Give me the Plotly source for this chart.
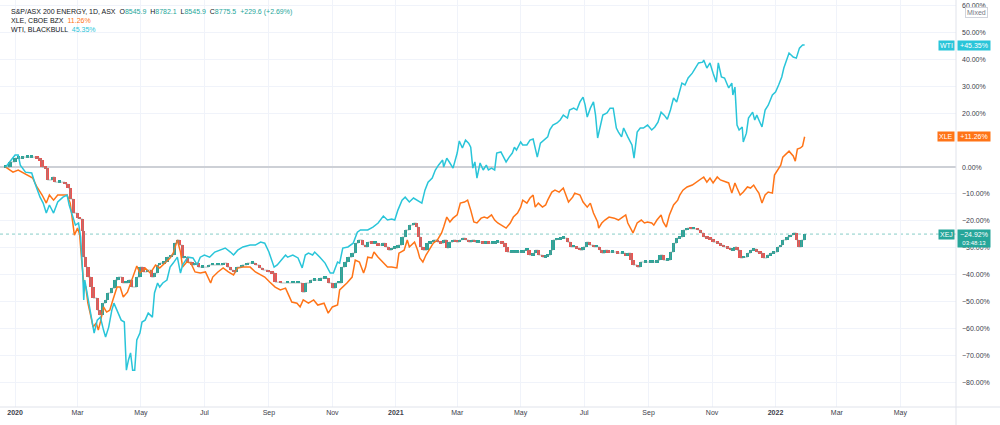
import plotly.graph_objects as go
import pandas as pd

# ---------------- data (percent change vs first bar) ----------------
wti_dates = ["2019-12-23","2019-12-27","2020-01-01","2020-01-04","2020-01-06","2020-01-11","2020-01-17","2020-01-20","2020-01-25","2020-01-28","2020-01-31",
"2020-02-03","2020-02-07","2020-02-11","2020-02-16","2020-02-20","2020-02-22","2020-02-25","2020-02-28","2020-03-02","2020-03-04","2020-03-06","2020-03-07","2020-03-08",
"2020-03-11","2020-03-15","2020-03-17","2020-03-20","2020-03-23","2020-03-26","2020-03-28","2020-03-31","2020-04-03","2020-04-05","2020-04-08","2020-04-12","2020-04-15",
"2020-04-17","2020-04-19","2020-04-21","2020-04-23","2020-04-25","2020-04-27","2020-04-30","2020-05-02","2020-05-05","2020-05-08","2020-05-12","2020-05-14","2020-05-17",
"2020-05-19","2020-05-22","2020-05-26","2020-05-29","2020-06-01","2020-06-05","2020-06-08","2020-06-10","2020-06-15","2020-06-20","2020-06-24","2020-06-27","2020-07-01",
"2020-07-06","2020-07-11","2020-07-16","2020-07-21","2020-07-26","2020-07-29","2020-08-02","2020-08-07","2020-08-14","2020-08-19","2020-08-24","2020-08-28","2020-09-01",
"2020-09-06","2020-09-09","2020-09-14","2020-09-17","2020-09-19","2020-09-24","2020-09-29","2020-10-03","2020-10-06","2020-10-09","2020-10-13","2020-10-15","2020-10-20",
"2020-10-25","2020-10-30","2020-11-02","2020-11-06","2020-11-08","2020-11-11","2020-11-16","2020-11-21","2020-11-25","2020-11-28","2020-12-02","2020-12-05","2020-12-10",
"2020-12-15","2020-12-20","2020-12-24","2020-12-28","2020-12-31","2021-01-03","2021-01-07","2021-01-10","2021-01-14","2021-01-18","2021-01-22","2021-01-26","2021-01-29",
"2021-02-01","2021-02-05","2021-02-08","2021-02-11","2021-02-15","2021-02-16","2021-02-19","2021-02-22","2021-02-25","2021-03-01","2021-03-03","2021-03-06","2021-03-09",
"2021-03-12","2021-03-14","2021-03-16","2021-03-18","2021-03-20","2021-03-23","2021-03-26","2021-03-29","2021-03-31","2021-04-03","2021-04-06","2021-04-08","2021-04-12",
"2021-04-15","2021-04-17","2021-04-20","2021-04-23","2021-04-25","2021-04-27","2021-05-01","2021-05-03","2021-05-07","2021-05-10","2021-05-13","2021-05-17","2021-05-20",
"2021-05-23","2021-05-27","2021-05-29","2021-06-01","2021-06-05","2021-06-08","2021-06-11","2021-06-15","2021-06-17","2021-06-21","2021-06-24","2021-06-27","2021-06-30",
"2021-07-02","2021-07-04","2021-07-07","2021-07-10","2021-07-12","2021-07-14","2021-07-16","2021-07-19","2021-07-23","2021-07-26","2021-07-29","2021-08-01","2021-08-03",
"2021-08-06","2021-08-08","2021-08-10","2021-08-12","2021-08-16","2021-08-18","2021-08-21","2021-08-24","2021-08-27","2021-08-31","2021-09-04","2021-09-07","2021-09-10",
"2021-09-13","2021-09-16","2021-09-19","2021-09-22","2021-09-25","2021-09-28","2021-09-30","2021-10-03","2021-10-06","2021-10-09","2021-10-13","2021-10-16","2021-10-19",
"2021-10-23","2021-10-24","2021-10-27","2021-10-30","2021-11-02","2021-11-05","2021-11-07","2021-11-10","2021-11-13","2021-11-17","2021-11-20","2021-11-21","2021-11-23",
"2021-11-25","2021-11-27","2021-11-30","2021-12-01","2021-12-04","2021-12-06","2021-12-10","2021-12-12","2021-12-14","2021-12-16","2021-12-19","2021-12-22","2021-12-25",
"2021-12-29","2022-01-01","2022-01-04","2022-01-07","2022-01-09","2022-01-12","2022-01-14","2022-01-18","2022-01-21","2022-01-24","2022-01-27","2022-01-29"]
wti_values = [0,2.2,4.5,4.5,0.7,-1.9,-2.2,-5.9,-11.2,-13.4,-17.1,
-14.1,-17.1,-13.0,-11.2,-10.4,-14.1,-17.8,-21.6,-20.8,-26.0,-39.4,-49.4,-42.0,
-48.3,-56.9,-61.7,-56.9,-55.8,-60.6,-63.2,-59.5,-53.2,-50.6,-53.2,-56.9,-57.6,
-75.5,-71.7,-69.1,-75.5,-75.5,-64.3,-61.7,-57.6,-56.9,-54.3,-55.8,-46.8,-43.1,
-44.6,-43.1,-42.0,-37.2,-35.7,-33.5,-39.4,-36.4,-33.5,-33.8,-36.4,-33.5,-32.7,
-33.5,-31.6,-30.9,-30.1,-31.6,-32.7,-30.9,-29.7,-29.0,-29.0,-27.9,-28.3,-31.6,
-37.2,-36.4,-33.8,-32.7,-33.5,-32.7,-33.8,-37.5,-32.7,-32.0,-32.7,-31.6,-33.5,
-35.7,-39.4,-39.4,-35.3,-35.7,-30.1,-29.7,-28.3,-24.2,-23.4,-23.4,-23.4,-22.3,
-20.8,-18.2,-19.7,-19.3,-19.7,-16.0,-12.3,-11.2,-13.0,-11.5,-12.3,-13.4,-8.6,
-5.6,-4.1,-1.1,0.7,2.6,0.0,3.3,1.5,-0.4,5.2,9.7,7.1,10.0,
8.9,7.4,-0.4,1.9,-4.1,1.5,-1.1,0.7,-1.1,-0.4,-1.1,5.2,5.6,
3.3,1.9,3.7,5.2,7.4,6.3,9.3,8.2,8.2,10.0,10.4,3.7,8.9,
10.0,11.2,13.8,15.6,16.4,17.5,19.3,18.2,21.2,21.9,21.2,24.2,26.0,
23.0,18.6,21.9,24.2,19.3,10.8,14.5,19.3,20.1,21.9,21.9,14.5,13.0,
11.2,14.5,12.6,11.2,8.2,3.3,13.0,14.5,14.5,15.6,13.8,14.9,16.7,
20.4,19.3,17.8,21.2,25.7,24.2,26.8,31.2,30.5,33.1,34.9,36.8,38.7,
39.0,39.8,36.8,38.7,34.9,31.6,38.7,33.5,33.1,29.4,31.2,26.8,29.7,
15.6,13.8,14.9,9.3,12.6,18.2,20.4,17.5,19.3,17.5,14.9,21.2,23.0,
26.8,27.9,30.5,33.5,36.8,39.8,42.4,40.9,40.5,44.2,45.4,45.35]

xle_dates = ["2019-12-23","2019-12-27","2019-12-30","2020-01-04","2020-01-09","2020-01-13","2020-01-18","2020-01-22","2020-01-27","2020-01-31","2020-02-03","2020-02-07",
"2020-02-11","2020-02-16","2020-02-20","2020-02-23","2020-02-25","2020-02-27","2020-03-01","2020-03-03","2020-03-05","2020-03-07","2020-03-09","2020-03-11","2020-03-14",
"2020-03-16","2020-03-19","2020-03-21","2020-03-23","2020-03-26","2020-03-29","2020-04-01","2020-04-04","2020-04-08","2020-04-11","2020-04-14","2020-04-18","2020-04-22",
"2020-04-27","2020-04-30","2020-05-05","2020-05-10","2020-05-15","2020-05-19","2020-05-24","2020-05-29","2020-06-01","2020-06-05","2020-06-08","2020-06-10","2020-06-14",
"2020-06-18","2020-06-22","2020-06-27","2020-07-02","2020-07-07","2020-07-09","2020-07-14","2020-07-19","2020-07-24","2020-07-29","2020-08-02","2020-08-07","2020-08-14",
"2020-08-19","2020-08-24","2020-08-28","2020-09-02","2020-09-07","2020-09-12","2020-09-17","2020-09-20","2020-09-23","2020-09-28","2020-10-01","2020-10-04","2020-10-09",
"2020-10-14","2020-10-18","2020-10-24","2020-10-28","2020-11-01","2020-11-06","2020-11-08","2020-11-11","2020-11-15","2020-11-20","2020-11-23","2020-11-27","2020-12-01",
"2020-12-03","2020-12-05","2020-12-09","2020-12-11","2020-12-15","2020-12-20","2020-12-24","2020-12-28","2021-01-02","2021-01-04","2021-01-09","2021-01-12","2021-01-14",
"2021-01-19","2021-01-22","2021-01-24","2021-01-27","2021-01-30","2021-02-03","2021-02-06","2021-02-10","2021-02-14","2021-02-16","2021-02-19","2021-02-22","2021-02-25",
"2021-03-01","2021-03-04","2021-03-08","2021-03-11","2021-03-14","2021-03-17","2021-03-20","2021-03-24","2021-03-27","2021-03-30","2021-04-03","2021-04-06","2021-04-09",
"2021-04-13","2021-04-17","2021-04-21","2021-04-24","2021-04-28","2021-05-01","2021-05-03","2021-05-07","2021-05-10","2021-05-13","2021-05-15","2021-05-18","2021-05-22",
"2021-05-25","2021-05-27","2021-05-31","2021-06-03","2021-06-07","2021-06-11","2021-06-14","2021-06-16","2021-06-20","2021-06-22","2021-06-27","2021-06-30","2021-07-04",
"2021-07-07","2021-07-10","2021-07-14","2021-07-15","2021-07-18","2021-07-21","2021-07-25","2021-07-30","2021-08-03","2021-08-07","2021-08-10","2021-08-12","2021-08-16",
"2021-08-17","2021-08-21","2021-08-25","2021-08-28","2021-08-31","2021-09-04","2021-09-06","2021-09-09","2021-09-13","2021-09-15","2021-09-18","2021-09-21","2021-09-25",
"2021-09-29","2021-10-01","2021-10-04","2021-10-08","2021-10-13","2021-10-17","2021-10-21","2021-10-24","2021-10-27","2021-10-30","2021-11-02","2021-11-06","2021-11-09",
"2021-11-14","2021-11-17","2021-11-20","2021-11-23","2021-11-25","2021-11-28","2021-12-01","2021-12-05","2021-12-08","2021-12-11","2021-12-14","2021-12-16","2021-12-19",
"2021-12-22","2021-12-25","2021-12-29","2021-12-31","2022-01-03","2022-01-06","2022-01-08","2022-01-11","2022-01-14","2022-01-18","2022-01-20","2022-01-22","2022-01-25",
"2022-01-27","2022-01-29"]
xle_values = [0,-1.1,-1.9,-1.1,-2.2,-3.0,-4.1,-7.4,-10.4,-13.4,-10.4,-12.3,
-10.4,-10.4,-10.4,-13.4,-19.7,-25.3,-22.7,-24.9,-34.6,-43.1,-44.6,-50.6,-55.8,
-59.5,-58.0,-60.6,-57.6,-52.0,-53.9,-53.2,-49.4,-44.6,-44.6,-48.3,-46.5,-42.0,
-36.8,-39.4,-37.5,-39.4,-36.4,-37.5,-35.7,-33.8,-32.0,-27.1,-31.6,-37.2,-35.3,
-35.7,-39.0,-39.4,-39.0,-43.1,-40.9,-39.0,-37.5,-39.0,-40.1,-37.5,-37.2,-37.2,
-39.0,-40.1,-40.9,-42.8,-44.6,-45.7,-45.0,-47.6,-50.2,-50.6,-52.0,-49.4,-50.6,
-49.4,-51.3,-50.6,-54.3,-52.0,-51.3,-45.7,-44.6,-43.1,-40.9,-34.6,-35.3,-39.4,
-37.2,-33.5,-33.8,-31.6,-33.5,-35.7,-37.2,-37.2,-37.5,-32.0,-30.9,-27.1,-29.7,
-27.9,-30.9,-33.8,-35.3,-32.7,-30.1,-28.3,-27.1,-24.5,-22.3,-18.6,-20.4,-19.0,
-17.8,-13.4,-13.0,-12.3,-16.0,-20.4,-20.8,-19.0,-18.6,-19.0,-17.8,-19.7,-20.8,
-21.6,-22.7,-20.8,-18.6,-17.1,-14.9,-12.3,-13.4,-11.5,-10.4,-14.9,-13.4,-14.9,
-14.1,-12.3,-9.3,-8.6,-9.3,-7.8,-11.2,-13.0,-11.2,-9.7,-10.4,-13.0,-14.9,
-13.4,-17.1,-20.4,-22.7,-20.8,-19.7,-18.6,-19.0,-19.7,-18.6,-17.8,-20.8,-23.4,
-24.5,-20.8,-19.7,-20.8,-20.4,-20.8,-21.6,-19.7,-17.8,-20.4,-22.3,-17.8,-14.1,
-12.3,-10.4,-8.6,-7.4,-6.7,-5.6,-4.8,-3.7,-5.6,-4.1,-5.9,-3.7,-4.8,
-5.6,-5.9,-9.7,-5.9,-7.8,-10.4,-9.3,-7.4,-7.8,-6.7,-8.6,-9.7,-13.4,
-10.4,-9.3,-9.7,-3.0,-1.1,0.7,3.7,4.8,5.9,4.1,2.2,6.7,7.1,
7.8,11.26]

xej_dates = ["2019-12-23","2019-12-27","2020-01-01","2020-01-04","2020-01-08","2020-01-13","2020-01-17","2020-01-22","2020-01-25","2020-01-27","2020-01-30","2020-02-01",
"2020-02-06","2020-02-08","2020-02-13","2020-02-18","2020-02-21","2020-02-23","2020-02-26","2020-03-01","2020-03-03","2020-03-06","2020-03-07","2020-03-09","2020-03-11",
"2020-03-14","2020-03-16","2020-03-20","2020-03-22","2020-03-25","2020-03-28","2020-03-30","2020-04-03","2020-04-06","2020-04-09","2020-04-13","2020-04-16","2020-04-19",
"2020-04-22","2020-04-27","2020-04-30","2020-05-03","2020-05-07","2020-05-11","2020-05-14","2020-05-17","2020-05-19","2020-05-23","2020-05-26","2020-05-30","2020-06-02",
"2020-06-05","2020-06-07","2020-06-10","2020-06-12","2020-06-15","2020-06-19","2020-06-22","2020-06-25","2020-06-29","2020-07-05","2020-07-09","2020-07-14","2020-07-19",
"2020-07-23","2020-07-26","2020-07-29","2020-08-01","2020-08-06","2020-08-11","2020-08-16","2020-08-19","2020-08-23","2020-08-26","2020-08-31","2020-09-04","2020-09-07",
"2020-09-12","2020-09-19","2020-09-24","2020-09-29","2020-10-03","2020-10-06","2020-10-11","2020-10-15","2020-10-20","2020-10-25","2020-10-28","2020-11-01","2020-11-04",
"2020-11-07","2020-11-10","2020-11-13","2020-11-16","2020-11-20","2020-11-23","2020-11-26","2020-11-30","2020-12-03","2020-12-05","2020-12-09","2020-12-12","2020-12-15",
"2020-12-19","2020-12-22","2020-12-25","2020-12-28","2020-12-31","2021-01-03","2021-01-07","2021-01-10","2021-01-14","2021-01-18","2021-01-21","2021-01-23","2021-01-25",
"2021-01-27","2021-01-31","2021-02-03","2021-02-06","2021-02-10","2021-02-13","2021-02-16","2021-02-19","2021-02-21","2021-02-25","2021-02-28","2021-03-03","2021-03-06",
"2021-03-09","2021-03-12","2021-03-15","2021-03-18","2021-03-21","2021-03-25","2021-03-28","2021-03-31","2021-04-04","2021-04-07","2021-04-09","2021-04-13","2021-04-16",
"2021-04-18","2021-04-22","2021-04-25","2021-04-28","2021-05-02","2021-05-04","2021-05-07","2021-05-09","2021-05-13","2021-05-15","2021-05-18","2021-05-22","2021-05-25",
"2021-05-27","2021-05-30","2021-06-01","2021-06-05","2021-06-08","2021-06-11","2021-06-15","2021-06-18","2021-06-21","2021-06-24","2021-06-27","2021-06-30","2021-07-03",
"2021-07-06","2021-07-10","2021-07-13","2021-07-16","2021-07-18","2021-07-21","2021-07-24","2021-07-28","2021-08-02","2021-08-07","2021-08-10","2021-08-12","2021-08-15",
"2021-08-17","2021-08-21","2021-08-24","2021-08-29","2021-09-03","2021-09-05","2021-09-09","2021-09-12","2021-09-15","2021-09-19","2021-09-22","2021-09-25","2021-09-28",
"2021-10-01","2021-10-04","2021-10-08","2021-10-11","2021-10-14","2021-10-18","2021-10-21","2021-10-24","2021-10-27","2021-10-30","2021-11-02","2021-11-06","2021-11-09",
"2021-11-12","2021-11-16","2021-11-19","2021-11-21","2021-11-23","2021-11-25","2021-11-28","2021-12-01","2021-12-05","2021-12-08","2021-12-11","2021-12-14","2021-12-17",
"2021-12-20","2021-12-24","2021-12-27","2021-12-30","2022-01-03","2022-01-06","2022-01-08","2022-01-12","2022-01-15","2022-01-18","2022-01-21","2022-01-23","2022-01-26",
"2022-01-29"]
xej_close = [0,1.9,3.3,3.3,3.7,3.7,3.7,3.3,2.6,0.0,-0.4,-4.8,
-3.7,-5.6,-5.6,-6.3,-7.8,-11.9,-17.1,-19.0,-19.3,-23.8,-33.5,-37.2,-40.9,
-44.6,-48.7,-53.2,-55.0,-50.6,-49.4,-46.8,-45.0,-42.0,-40.9,-43.1,-43.1,-42.0,
-44.6,-40.9,-37.2,-39.0,-38.3,-40.9,-39.4,-36.4,-35.7,-35.3,-33.5,-32.7,-28.3,
-27.1,-29.0,-33.8,-33.5,-35.3,-36.4,-35.7,-37.2,-37.2,-36.4,-36.4,-36.4,-35.7,
-37.2,-38.3,-39.0,-37.2,-36.4,-35.7,-35.7,-36.4,-37.5,-38.3,-39.0,-39.4,-42.8,
-43.1,-43.1,-43.1,-43.1,-46.5,-43.1,-42.0,-42.0,-41.3,-41.3,-43.1,-45.0,-43.1,
-43.1,-37.2,-35.3,-33.5,-32.0,-28.3,-27.1,-29.0,-29.7,-27.9,-28.3,-28.3,-29.0,
-28.3,-29.7,-30.9,-30.1,-30.1,-29.0,-26.0,-23.4,-21.6,-20.8,-22.3,-26.0,-29.7,
-30.9,-28.3,-27.9,-27.1,-27.9,-28.3,-27.1,-30.1,-27.9,-27.1,-27.9,-27.1,-26.4,
-27.1,-27.9,-27.1,-27.9,-27.9,-28.3,-27.9,-28.3,-28.3,-27.9,-27.9,-28.3,-29.7,
-31.6,-31.6,-31.6,-31.6,-31.6,-30.9,-30.9,-32.7,-32.0,-30.9,-32.7,-33.5,-33.1,
-32.7,-30.9,-27.1,-26.8,-26.4,-26.4,-27.9,-29.7,-29.7,-30.1,-30.9,-29.7,-27.9,
-29.0,-29.7,-29.7,-30.9,-32.0,-30.9,-31.6,-31.6,-32.0,-32.0,-32.7,-32.0,-34.6,
-36.4,-37.2,-35.3,-35.3,-35.3,-35.3,-34.6,-32.7,-34.6,-34.6,-31.6,-28.3,-26.4,
-26.0,-23.4,-22.7,-23.0,-23.0,-23.4,-24.5,-26.0,-26.4,-26.8,-27.9,-28.3,-29.0,
-29.7,-30.1,-30.9,-30.9,-29.7,-30.9,-33.8,-33.5,-32.0,-30.9,-30.5,-31.6,-32.0,
-33.8,-32.7,-32.0,-31.6,-29.7,-29.0,-27.1,-26.0,-25.3,-24.5,-27.1,-29.7,-27.1,
-24.92]

# header values and tick labels
xej_title = "S&P/ASX 200 ENERGY, 1D, ASX"
xej_ohlc = {"O": "8545.9", "H": "8782.1", "L": "8545.9", "C": "8775.5"}
xej_change = "+229.6 (+2.69%)"
xle_title = "XLE, CBOE BZX"
wti_title = "WTI, BLACKBULL"
countdown = "03:48:13"
x_tick_dates = ["2020-01-01","2020-03-01","2020-05-01","2020-07-01","2020-09-01","2020-11-01",
                "2021-01-01","2021-03-01","2021-05-01","2021-07-01","2021-09-01","2021-11-01",
                "2022-01-01","2022-03-01","2022-05-01"]
x_tick_text = ["<b>2020</b>","Mar","May","Jul","Sep","Nov","<b>2021</b>","Mar","May","Jul","Sep","Nov",
               "<b>2022</b>","Mar","May"]
# 10.00% is hidden behind the XLE last-value label in the reference
y_tick_values = [60, 50, 40, 30, 20, 0, -10, -20, -30, -40, -50, -60, -70, -80]
y_tick_text = [("\u2212" if v < 0 else "") + f"{abs(v):.2f}%" for v in y_tick_values]

# ---------------- styling ----------------
C_WTI = "#29c5d9"
C_XLE = "#ff7417"
C_UP = "#26a69a"
C_DN = "#ef5350"
GRID = "#f0f3fa"
TXT = "#3d404a"
FONT = "Liberation Sans"

# candles: open = previous close
xej_open = [xej_close[0]] + xej_close[:-1]
base = [min(o, c) for o, c in zip(xej_open, xej_close)]
height = [max(abs(c - o), 0.7) for o, c in zip(xej_open, xej_close)]
cols = [C_UP if c >= o else C_DN for o, c in zip(xej_open, xej_close)]

fig = go.Figure()
fig.add_trace(go.Scatter(x=pd.to_datetime(xle_dates), y=xle_values, mode="lines",
                         line=dict(color=C_XLE, width=1.5), showlegend=False))
fig.add_trace(go.Scatter(x=pd.to_datetime(wti_dates), y=wti_values, mode="lines",
                         line=dict(color=C_WTI, width=1.5), showlegend=False))
fig.add_trace(go.Scatter(x=pd.to_datetime(xej_dates), y=xej_close, mode="lines",
                         line=dict(color="rgba(120,150,145,0.55)", width=1, shape="hv"), showlegend=False))
fig.add_trace(go.Bar(x=pd.to_datetime(xej_dates), y=height, base=base, marker=dict(color=cols, line=dict(width=0)),
                     width=3.2 * 86400000, showlegend=False))

# price line for XEJ last value
fig.add_shape(type="line", xref="paper", x0=0, x1=1, yref="y", y0=xej_close[-1], y1=xej_close[-1],
              line=dict(color="rgba(38,166,154,0.55)", width=1, dash="dot"), layer="below")
# bottom border extending under the price scale
fig.add_shape(type="line", xref="paper", x0=0, x1=1.047, yref="paper", y0=0, y1=0,
              line=dict(color="#e0e3eb", width=1))
fig.add_shape(type="line", xref="paper", x0=1, x1=1, yref="paper", y0=-0.05, y1=1,
              line=dict(color="#e0e3eb", width=1))

ann = []
# right-side last value labels
def last_label(name, val, color, extra=None):
    sign = "+" if val >= 0 else "\u2212"
    txt = f"{sign}{abs(val):.2f}%"
    fsize = 7
    if extra:
        txt = f"<span style='font-size:7px'>{txt}</span><br><span style='font-size:6px'>{extra}</span>"
        fsize = 6
    ann.append(dict(xref="paper", yref="y", x=1, y=val, xanchor="left", yanchor="middle" if not extra else "top",
                    yshift=0 if not extra else 5, xshift=1,
                    text=txt, showarrow=False, bgcolor=color, font=dict(color="white", size=fsize, family=FONT),
                    borderpad=1, width=30, align="center"))
    ann.append(dict(xref="paper", yref="y", x=1, y=val, xanchor="right", yanchor="middle", xshift=-1,
                    text=name, showarrow=False, bgcolor=color, font=dict(color="white", size=7, family=FONT),
                    borderpad=1))

last_label("WTI", wti_values[-1], C_WTI)
last_label("XLE", xle_values[-1], C_XLE)
last_label("XEJ", xej_close[-1], C_UP, countdown)

# header lines
ohlc_txt = "  ".join(f"{k}<span style='color:{C_UP}'>{v}</span>" for k, v in xej_ohlc.items())
header = [
    f"{xej_title}  {ohlc_txt}  <span style='color:{C_UP}'>{xej_change}</span>",
    f"{xle_title}  <span style='color:{C_XLE}'>{xle_values[-1]:.2f}%</span>",
    f"{wti_title}  <span style='color:{C_WTI}'>{wti_values[-1]:.2f}%</span>",
]
for i, h in enumerate(header):
    ann.append(dict(xref="paper", yref="paper", x=0, y=1, xanchor="left", yanchor="middle",
                    xshift=9, yshift=-12 - 8.5 * i, text=h, showarrow=False,
                    font=dict(color="#131722", size=7, family=FONT)))

# "Mixed" button
ann.append(dict(xref="paper", yref="paper", x=1, y=1, xanchor="left", yanchor="middle", xshift=9, yshift=-12,
                text="Mixed", showarrow=False, font=dict(color="#787b86", size=7, family=FONT),
                bordercolor="#d1d4dc", borderwidth=1, borderpad=1, bgcolor="white"))

fig.update_layout(
    width=1000, height=425,
    margin=dict(l=0, r=44, t=0, b=18),
    paper_bgcolor="white", plot_bgcolor="white",
    bargap=0, annotations=ann,
    font=dict(family=FONT, size=7, color=TXT),
    xaxis=dict(type="date", range=["2019-12-17 12:00", "2022-06-23 12:00"],
               tickvals=pd.to_datetime(x_tick_dates), ticktext=x_tick_text,
               showgrid=True, gridcolor=GRID, gridwidth=1, zeroline=False,
               ticks="", tickfont=dict(size=7, color=TXT), showline=False, fixedrange=True),
    yaxis=dict(side="right", range=[-89.2, 62.1], tickvals=y_tick_values, ticktext=y_tick_text,
               showgrid=True, gridcolor=GRID, gridwidth=1,
               zeroline=True, zerolinecolor="#cdd0d6", zerolinewidth=1.5,
               ticks="", ticklabelstandoff=5, tickfont=dict(size=7, color=TXT), showline=False),
)

fig.write_html("out.html")
